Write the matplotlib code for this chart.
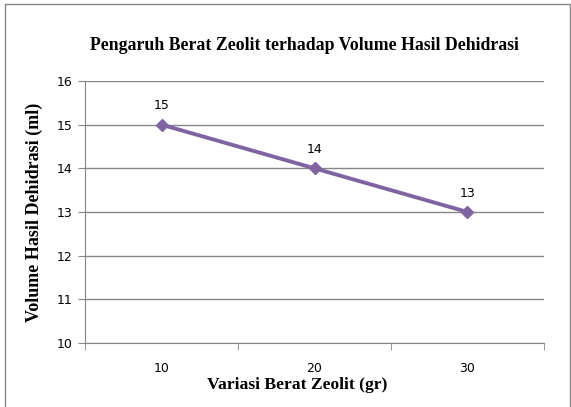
import matplotlib
matplotlib.use("Agg")
from matplotlib import pyplot as plt

# Data dari grafik
kategori = ["10", "20", "30"]
volume = [15, 14, 13]
y_ticks = [10, 11, 12, 13, 14, 15, 16]

fig = plt.figure(figsize=(5.71, 4.07), dpi=100)
ax = fig.add_axes([0.1489, 0.1572, 0.8038, 0.6438])

# Bingkai luar grafik
fig.patches.append(plt.Rectangle((0.009, -0.01), 0.99, 1.0, transform=fig.transFigure,
                                 fill=False, edgecolor="#868686", linewidth=1))

xs = [i for i, _ in enumerate(kategori)]
ax.plot(xs, volume, color="#8064A2", linewidth=2.8, marker="D", markersize=6.5,
        markerfacecolor="#8064A2", markeredgecolor="#8064A2", zorder=3)

# Label data di atas titik
for x, v in zip(xs, volume):
    ax.annotate(str(v), (x, v), xytext=(0, 9), textcoords="offset points",
                ha="center", va="bottom", fontsize=9, color="black")

ax.set_xlim(-0.5, len(kategori) - 0.5)
ax.set_ylim(10, 16)
ax.set_yticks(y_ticks)
ax.set_xticks(xs)
ax.set_xticklabels(kategori)
ax.set_xticks([i - 0.5 for i in range(len(kategori) + 1)], minor=True)
ax.tick_params(axis="x", which="major", length=0, pad=14, labelsize=9)
ax.tick_params(axis="x", which="minor", length=5, color="#868686", direction="out")
ax.tick_params(axis="y", length=5, color="#868686", direction="out", labelsize=9, pad=4)

ax.grid(axis="y", color="#868686", linewidth=1)
ax.set_axisbelow(True)
for s in ["top", "right"]:
    ax.spines[s].set_visible(False)
ax.spines["left"].set_color("#868686")
ax.spines["bottom"].set_color("#868686")

# Judul dan label sumbu
fig.text(304 / 571, 1 - 45 / 407, "Pengaruh Berat Zeolit terhadap Volume Hasil Dehidrasi",
         fontfamily="Liberation Serif", fontweight="bold", fontsize=12.8,
         ha="center", va="center")
fig.text(297 / 571, 1 - 385 / 407, "Variasi Berat Zeolit (gr)",
         fontfamily="Liberation Serif", fontweight="bold", fontsize=12.6,
         ha="center", va="center")
fig.text(34 / 571, 1 - 212 / 407, "Volume Hasil Dehidrasi (ml)",
         fontfamily="Liberation Serif", fontweight="bold", fontsize=13,
         ha="center", va="center", rotation=90)

plt.savefig("out.png", dpi=100)
